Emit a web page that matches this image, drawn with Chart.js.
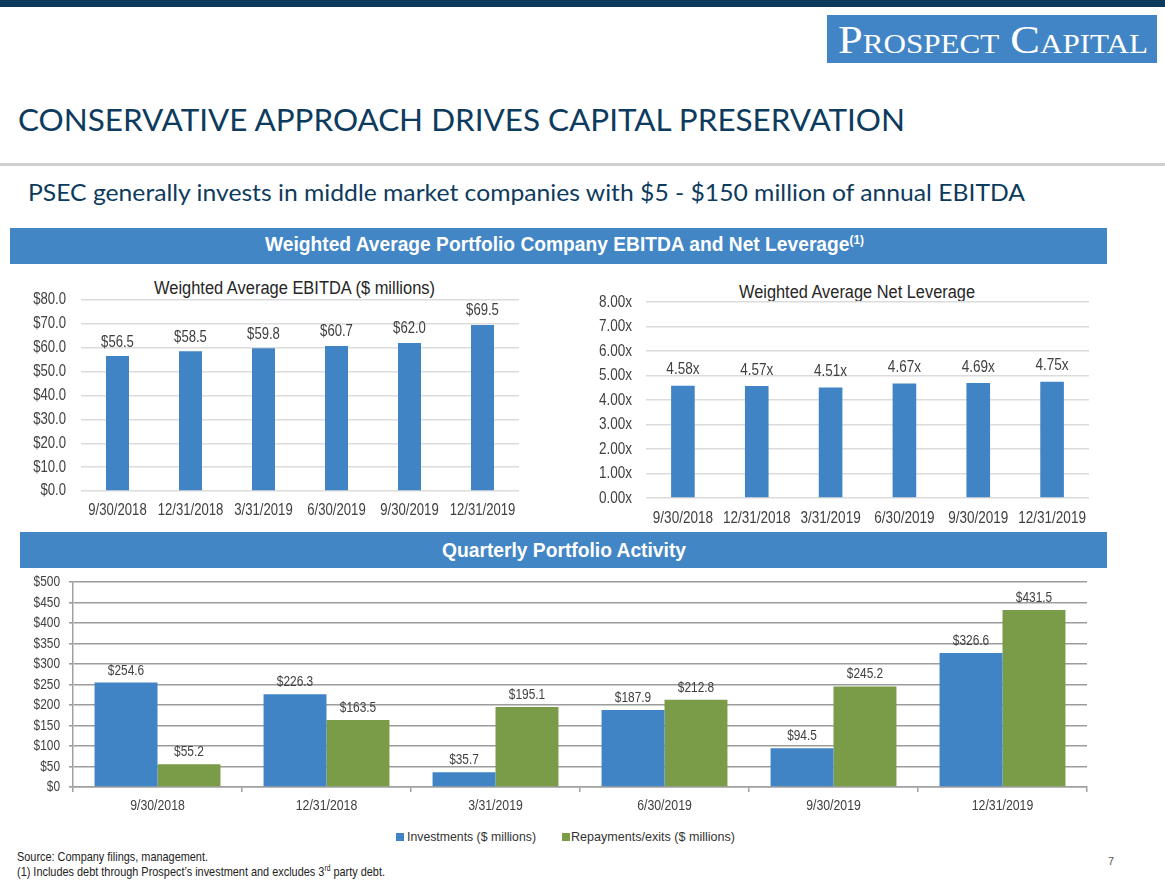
<!DOCTYPE html>
<html><head><meta charset="utf-8">
<script src="https://cdn.jsdelivr.net/npm/chart.js@4.4.1/dist/chart.umd.min.js"></script>
<style>
html,body{margin:0;padding:0;background:#fff;}
body{width:1165px;height:885px;position:relative;overflow:hidden;}
.abs{position:absolute;}
.t{position:absolute;white-space:nowrap;transform-origin:0 0;}
.n{font-family:"Liberation Sans Narrow","Arial Narrow","Liberation Sans",Arial,sans-serif;}
sup{font-size:62%;vertical-align:0;position:relative;top:-0.55em;}
</style></head><body>
<div class="abs" style="left:0;top:0;width:1165px;height:7px;background:#0b3a5c"></div>
<div class="abs" style="left:827px;top:15px;width:330px;height:48px;background:#4285c6"></div>
<div class="t" data-w="310" style="left:838px;top:19.5px;font:40px/40px 'Liberation Serif','Times New Roman',serif;font-variant:small-caps;color:#fff">Prospect Capital</div>

<div class="t" data-w="887" style="left:18px;top:103.5px;font:31px/31px Lato,'Open Sans',sans-serif;color:#0d3b5e">CONSERVATIVE APPROACH DRIVES CAPITAL PRESERVATION</div>
<div class="abs" style="left:0;top:163px;width:1165px;height:3px;background:#cfcfcf"></div>
<div class="t" data-w="997" style="left:28px;top:181.3px;font:23px/23px Lato,'Open Sans',sans-serif;color:#0d3b5e">PSEC generally invests in middle market companies with $5 - $150 million of annual EBITDA</div>

<div class="abs" style="left:10px;top:228px;width:1097px;height:36px;background:#4286c6"></div>
<div class="t n" data-w="599" style="left:265px;top:234px;font-size:20px;line-height:20px;font-weight:bold;color:#fff">Weighted Average Portfolio Company EBITDA and Net Leverage<sup>(1)</sup></div>

<div class="t n" data-w="281" style="left:154px;top:278.8px;font-size:18px;line-height:18px;color:#262626">Weighted Average EBITDA ($ millions)</div>
<div class="t n" data-w="236" style="left:739px;top:283.5px;font-size:17.5px;line-height:17.5px;color:#262626">Weighted Average Net Leverage</div>

<div class="abs" style="left:20px;top:532px;width:1087px;height:36px;background:#4286c6"></div>
<div class="t n" data-w="244" style="left:442px;top:540px;font-size:20px;line-height:20px;font-weight:bold;color:#fff">Quarterly Portfolio Activity</div>

<div class="abs" style="left:0;top:290px;width:530px;height:240px"><canvas id="c1"></canvas></div>
<div class="abs" style="left:560px;top:290px;width:540px;height:240px"><canvas id="c2"></canvas></div>
<div class="abs" style="left:0;top:570px;width:1100px;height:250px"><canvas id="c3"></canvas></div>

<div class="abs" style="left:396px;top:833px;width:8px;height:8px;background:#4184c6"></div>
<div class="t n" data-w="129" style="left:406.5px;top:830px;font-size:13.5px;line-height:13.5px;color:#333">Investments ($ millions)</div>
<div class="abs" style="left:562px;top:833px;width:8px;height:8px;background:#7a9b48"></div>
<div class="t n" data-w="164" style="left:571px;top:830px;font-size:13.5px;line-height:13.5px;color:#333">Repayments/exits ($ millions)</div>

<div class="t n" data-w="191" style="left:17px;top:850px;font-size:13.5px;line-height:13.5px;color:#222">Source: Company filings, management.</div>
<div class="t n" data-w="368" style="left:17px;top:865px;font-size:13.5px;line-height:13.5px;color:#222">(1) Includes debt through Prospect’s investment and excludes 3<sup>rd</sup> party debt.</div>
<div class="t n" style="left:1108px;top:856px;font-size:11px;line-height:11px;color:#555">7</div>

<script>
// ---- data ----
const quarters = ['9/30/2018','12/31/2018','3/31/2019','6/30/2019','9/30/2019','12/31/2019'];
const ebitdaValues = [56.5, 58.5, 59.8, 60.7, 62.0, 69.5];
const leverageValues = [4.58, 4.57, 4.51, 4.67, 4.69, 4.75];
const investmentValues = [254.6, 226.3, 35.7, 187.9, 94.5, 326.6];
const repaymentValues = [55.2, 163.5, 195.1, 212.8, 245.2, 431.5];
const seriesNames = ['Investments ($ millions)', 'Repayments/exits ($ millions)'];
const ebitdaAxis = {min: 0, max: 80, step: 10};
const leverageAxis = {min: 0, max: 8, step: 1};
const activityAxis = {min: 0, max: 500, step: 50};

// Narrow (Arial Narrow-like) canvas text: Arial metrics compressed horizontally
const NARROW_SX = 0.82;
const _fill = CanvasRenderingContext2D.prototype.fillText;
const _measure = CanvasRenderingContext2D.prototype.measureText;
CanvasRenderingContext2D.prototype.fillText = function (t, x, y, mw) {
  this.save();
  this.translate(x, y);
  this.scale(NARROW_SX, 1);
  if (mw !== undefined) _fill.call(this, t, 0, 0, mw / NARROW_SX); else _fill.call(this, t, 0, 0);
  this.restore();
};
CanvasRenderingContext2D.prototype.measureText = function (t) {
  const m = _measure.call(this, t);
  return {
    width: m.width * NARROW_SX,
    actualBoundingBoxAscent: m.actualBoundingBoxAscent,
    actualBoundingBoxDescent: m.actualBoundingBoxDescent,
    actualBoundingBoxLeft: m.actualBoundingBoxLeft * NARROW_SX,
    actualBoundingBoxRight: m.actualBoundingBoxRight * NARROW_SX,
    fontBoundingBoxAscent: m.fontBoundingBoxAscent,
    fontBoundingBoxDescent: m.fontBoundingBoxDescent
  };
};

const FONT = '"Liberation Sans",Arial,sans-serif';
const BLUE = '#4184c6', GREEN = '#7a9b48', TXT = '#404040';

function valueLabels(size, offset, fmt) {
  return {
    id: 'valueLabels',
    afterDatasetsDraw(chart) {
      const ctx = chart.ctx;
      ctx.save();
      ctx.font = size + 'px ' + FONT;
      ctx.fillStyle = TXT;
      ctx.textAlign = 'center';
      ctx.textBaseline = 'middle';
      chart.data.datasets.forEach((ds, i) => {
        chart.getDatasetMeta(i).data.forEach((el, j) => {
          ctx.fillText(fmt(ds.data[j]), el.x, el.y - offset);
        });
      });
      ctx.restore();
    }
  };
}

Chart.defaults.font.family = FONT;
Chart.defaults.color = TXT;
Chart.defaults.animation = false;

function fixY(w) { return s => { s.width = w; s.paddingTop = 0; s.paddingBottom = 0; }; }
function fixX(h) { return s => { s.height = h; s.paddingLeft = 0; s.paddingRight = 0; }; }

function topChart(id, values, axis, fmtTick, fmtLabel, pad, yW, xH, yPad, xPad, tickSize, labelSize, labelOff, barPct) {
  return new Chart(document.getElementById(id), {
    type: 'bar',
    data: {labels: quarters, datasets: [{data: values, backgroundColor: BLUE, barPercentage: barPct, categoryPercentage: 1}]},
    options: {
      responsive: true, maintainAspectRatio: false,
      layout: {padding: pad},
      plugins: {legend: {display: false}, tooltip: {enabled: false}},
      scales: {
        x: {grid: {display: false, drawTicks: false}, border: {display: false},
            ticks: {padding: xPad, font: {size: tickSize}, color: TXT, maxRotation: 0, autoSkip: false},
            afterFit: fixX(xH)},
        y: {min: axis.min, max: axis.max,
            grid: {color: '#dcdcdc', lineWidth: 1.5, drawTicks: false},
            border: {display: false},
            ticks: {stepSize: axis.step, padding: yPad, font: {size: tickSize}, color: TXT, callback: fmtTick, autoSkip: false, maxTicksLimit: 50},
            afterFit: fixY(yW)}
      }
    },
    plugins: [valueLabels(labelSize, labelOff, fmtLabel)]
  });
}

topChart('c1', ebitdaValues, ebitdaAxis,
  v => '$' + Number(v).toFixed(1), v => '$' + v.toFixed(1),
  {top: 10, right: 11, left: 0, bottom: 0}, 81, 39, 15, 10, 16, 16, 14, 0.315);

topChart('c2', leverageValues, leverageAxis,
  v => Number(v).toFixed(2) + 'x', v => v.toFixed(2) + 'x',
  {top: 12, right: 11, left: 0, bottom: 0}, 86, 32, 14, 11, 16.5, 16.5, 16, 0.32);

new Chart(document.getElementById('c3'), {
  type: 'bar',
  data: {labels: quarters, datasets: [
    {label: seriesNames[0], data: investmentValues, backgroundColor: BLUE, barPercentage: 1, categoryPercentage: 0.745},
    {label: seriesNames[1], data: repaymentValues, backgroundColor: GREEN, barPercentage: 1, categoryPercentage: 0.745}
  ]},
  options: {
    responsive: true, maintainAspectRatio: false,
    layout: {padding: {top: 12, right: 13, left: 0, bottom: 0}},
    plugins: {legend: {display: false}, tooltip: {enabled: false}},
    scales: {
      x: {grid: {display: true, drawOnChartArea: false, drawTicks: true, tickLength: 5, color: '#a0a0a0', lineWidth: 1.5},
          border: {display: true, color: '#a0a0a0', width: 1.5},
          ticks: {padding: 4.5, font: {size: 15}, color: TXT, maxRotation: 0, autoSkip: false},
          afterFit: fixX(33)},
      y: {min: activityAxis.min, max: activityAxis.max,
          grid: {color: '#9c9c9c', lineWidth: 1.6, drawTicks: true, tickLength: 4},
          border: {display: true, color: '#a0a0a0', width: 1.5},
          ticks: {stepSize: activityAxis.step, padding: 9, font: {size: 14.5}, color: TXT, callback: v => '$' + v, autoSkip: false, maxTicksLimit: 50},
          afterFit: fixY(73)}
    }
  },
  plugins: [valueLabels(14.5, 12, v => '$' + v.toFixed(1))]
});

// fit HTML texts to measured widths
function fitAll() {
  document.querySelectorAll('.t[data-w]').forEach(el => {
    el.style.transform = 'none';
    const w = el.getBoundingClientRect().width;
    const target = parseFloat(el.dataset.w);
    if (w > 0) el.style.transform = 'scaleX(' + (target / w) + ')';
  });
}
fitAll();
if (document.fonts && document.fonts.ready) document.fonts.ready.then(fitAll);
</script>
</body></html>
